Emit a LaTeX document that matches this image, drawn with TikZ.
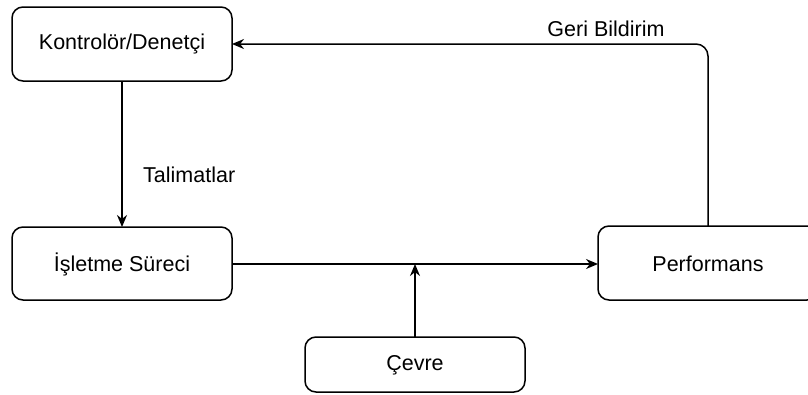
\documentclass[tikz,border=0pt]{standalone}
\usepackage{fontspec}
\setmainfont{Liberation Sans}
\usetikzlibrary{arrows.meta}
\begin{document}
\begin{tikzpicture}[x=1pt,y=-1pt,
  box/.style={draw,line width=1.5pt,rounded corners=11pt,fill=white},
  link/.style={line width=1.5pt,-{Stealth[length=12pt,width=10pt]}},
  lbl/.style={font=\fontsize{21.5}{25}\selectfont,inner sep=0pt}]
\useasboundingbox (0,0) rectangle (808,394);
\path[clip] (0,0) rectangle (808,394);
% blocks
\draw[box] (12,7) rectangle (232,81);
\node[lbl] (ctl) at (122,44) {Kontrolör/Denetçi};
\coordinate (ctlR) at (232,44);
\coordinate (ctlB) at (122,81);
\draw[box] (12,227) rectangle (232,300);
\node[lbl] (proc) at (122,264) {İşletme Süreci};
\coordinate (procT) at (122,227);
\coordinate (procR) at (232,264);
\draw[box] (598,226) rectangle (818,300);
\node[lbl] (perf) at (708,264) {Performans};
\coordinate (perfL) at (598,264);
\coordinate (perfT) at (708,226);
\draw[box] (305,337) rectangle (525,392);
\node[lbl] (env) at (415,365) {Çevre};
\coordinate (envT) at (415,337);
\coordinate (join) at (415,264);
% connectors
\draw[link] (ctlB) -- (procT);
\node[lbl,anchor=west] (instr) at (143,175) {Talimatlar};
\draw[link] (procR) -- (perfL);
\draw[link] (envT) -- (join);
\draw[link,rounded corners=12pt] (perfT) |- (ctlR);
\node[lbl] (fb) at (606,29) {Geri Bildirim};
\end{tikzpicture}
\end{document}
